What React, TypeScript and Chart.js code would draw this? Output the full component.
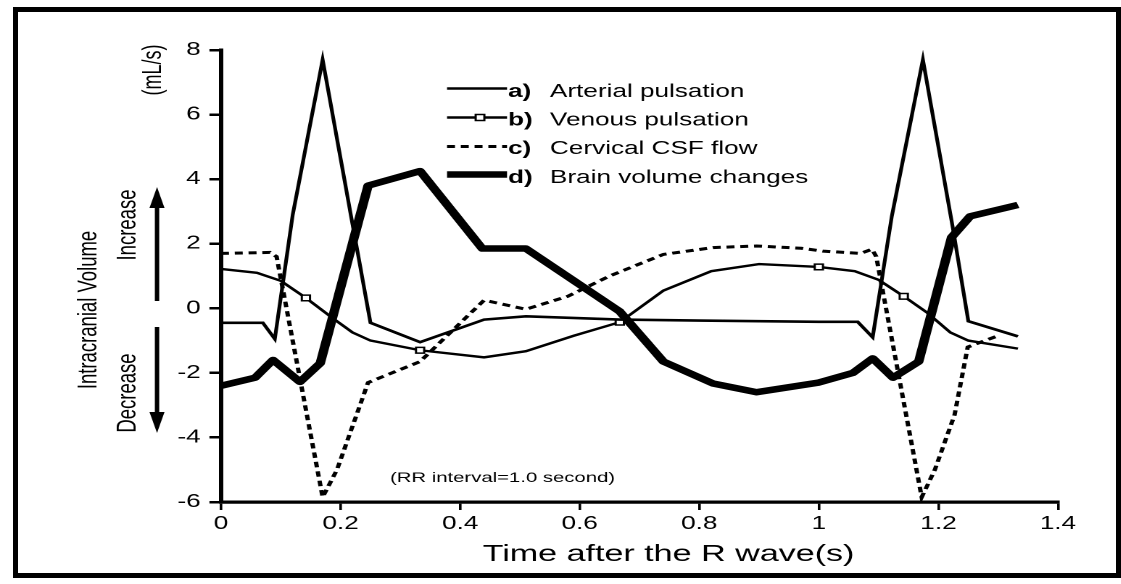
import React, { useEffect, useRef } from "react";
import { Chart, registerables } from "chart.js";

Chart.register(...registerables);

// ---- data (time in s, flow in mL/s) ----
const arterialT = [0, 0.07, 0.09, 0.12, 0.17, 0.22, 0.25, 0.333, 0.44, 0.51, 0.667, 0.8, 1.0, 1.065, 1.09, 1.122, 1.174, 1.224, 1.25, 1.333];
const arterialV = [-0.45, -0.45, -0.95, 2.9, 7.7, 2.6, -0.45, -1.05, -0.35, -0.25, -0.35, -0.38, -0.42, -0.42, -0.9, 2.85, 7.7, 2.5, -0.4, -0.87];

const venousT = [0, 0.06, 0.1, 0.142, 0.19, 0.22, 0.25, 0.333, 0.44, 0.51, 0.59, 0.667, 0.74, 0.82, 0.9, 1.0, 1.06, 1.1, 1.142, 1.18, 1.22, 1.25, 1.333];
const venousV = [1.22, 1.1, 0.85, 0.32, -0.35, -0.75, -1.0, -1.3, -1.52, -1.33, -0.85, -0.43, 0.55, 1.15, 1.37, 1.28, 1.15, 0.88, 0.37, -0.12, -0.75, -1.0, -1.25];
const venousMarkerT = [0.142, 0.333, 0.667, 1.0, 1.142];

const csfT = [0, 0.082, 0.093, 0.17, 0.194, 0.246, 0.333, 0.44, 0.51, 0.58, 0.65, 0.74, 0.823, 0.896, 0.97, 1.007, 1.07, 1.089, 1.096, 1.172, 1.194, 1.227, 1.249, 1.3];
const csfV = [1.7, 1.73, 1.6, -5.85, -5.0, -2.3, -1.65, 0.25, -0.03, 0.37, 1.0, 1.67, 1.88, 1.93, 1.86, 1.77, 1.7, 1.83, 1.6, -5.85, -5.0, -3.3, -1.2, -0.85];

const brainT = [0, 0.057, 0.087, 0.132, 0.166, 0.246, 0.333, 0.437, 0.51, 0.667, 0.74, 0.823, 0.896, 1.0, 1.057, 1.09, 1.124, 1.167, 1.222, 1.253, 1.333];
const brainV = [-2.4, -2.15, -1.6, -2.28, -1.7, 3.8, 4.25, 1.85, 1.85, -0.1, -1.65, -2.33, -2.6, -2.3, -2.0, -1.55, -2.15, -1.65, 2.2, 2.85, 3.2];

const xTicks = [0, 0.2, 0.4, 0.6, 0.8, 1, 1.2, 1.4];
const xTickLabels = ["0", "0.2", "0.4", "0.6", "0.8", "1", "1.2", "1.4"];
const yTicks = [-6, -4, -2, 0, 2, 4, 6, 8];
const yTickLabels = ["-6", "-4", "-2", "0", "2", "4", "6", "8"];

const legendTags = ["a)", "b)", "c)", "d)"];
const seriesNames = ["Arterial pulsation", "Venous pulsation", "Cervical CSF flow", "Brain volume changes"];
const xTitle = "Time after the R wave(s)";
const unitLabel = "(mL/s)";
const sideLabel = "Intracranial Volume";
const upLabel = "Increase";
const downLabel = "Decrease";
const noteLabel = "(RR interval=1.0 second)";

// ---- layout ----
const FULL_W = 1121;
const FULL_H = 584;
const SX = 1.45; // horizontal stretch of the whole figure
const W = FULL_W / SX;
const FONT = "'Liberation Sans', Arial, Helvetica, sans-serif";
const CSF_DASH = [5.5, 4];

const toPts = (t: number[], v: number[]) => t.map((x, i) => ({ x, y: v[i] }));

const annotate = {
  id: "annotate",
  afterDraw(chart: any) {
    const ctx = chart.ctx as CanvasRenderingContext2D;
    ctx.save();
    ctx.fillStyle = "#000";
    ctx.strokeStyle = "#000";

    const rot = (text: string, dx: number, y: number, size: number) => {
      ctx.save();
      ctx.translate(dx / SX, y);
      ctx.rotate(-Math.PI / 2);
      ctx.font = `${size}px ${FONT}`;
      ctx.textAlign = "center";
      ctx.textBaseline = "middle";
      ctx.fillText(text, 0, 0);
      ctx.restore();
    };
    rot(unitLabel, 154, 70, 18);
    rot(upLabel, 128.5, 225, 18.5);
    rot(downLabel, 128.5, 393, 18.5);
    rot(sideLabel, 89, 310, 18.5);

    // arrows
    const ax = 157 / SX;
    const hw = 5.2;
    ctx.lineWidth = 3;
    ctx.beginPath();
    ctx.moveTo(ax, 301);
    ctx.lineTo(ax, 204);
    ctx.moveTo(ax, 327);
    ctx.lineTo(ax, 416);
    ctx.stroke();
    ctx.beginPath();
    ctx.moveTo(ax, 187);
    ctx.lineTo(ax - hw, 208);
    ctx.lineTo(ax + hw, 208);
    ctx.closePath();
    ctx.fill();
    ctx.beginPath();
    ctx.moveTo(ax, 433);
    ctx.lineTo(ax - hw, 412);
    ctx.lineTo(ax + hw, 412);
    ctx.closePath();
    ctx.fill();

    // legend
    const lineY = [88.5, 117.5, 146.5, 174.5];
    const textY = [97, 125.5, 154, 183];
    const x0 = 447 / SX;
    const x1 = 507 / SX;
    chart.data.datasets.forEach((ds: any, i: number) => {
      ctx.save();
      ctx.lineWidth = ds.borderWidth;
      ctx.setLineDash(ds.borderDash || []);
      ctx.beginPath();
      ctx.moveTo(x0, lineY[i]);
      ctx.lineTo(x1, lineY[i]);
      ctx.stroke();
      ctx.restore();
      if (i === 1) {
        ctx.save();
        ctx.fillStyle = "#fff";
        ctx.lineWidth = 1.5;
        const mx = 480 / SX;
        ctx.fillRect(mx - 3, lineY[i] - 3, 6, 6);
        ctx.strokeRect(mx - 3, lineY[i] - 3, 6, 6);
        ctx.restore();
      }
      ctx.font = `bold 18px ${FONT}`;
      ctx.textAlign = "left";
      ctx.textBaseline = "alphabetic";
      ctx.fillText(legendTags[i], 508 / SX, textY[i]);
      ctx.font = `18px ${FONT}`;
      ctx.fillText(seriesNames[i], 550 / SX, textY[i]);
    });

    // note
    ctx.font = `14px ${FONT}`;
    ctx.textAlign = "left";
    ctx.fillText(noteLabel, 390 / SX, 482);

    // x-axis title
    ctx.font = `23.5px ${FONT}`;
    ctx.textAlign = "center";
    ctx.fillText(xTitle, 668.5 / SX, 561);

    ctx.restore();
  },
};

export default function App() {
  const canvasRef = useRef<HTMLCanvasElement | null>(null);

  useEffect(() => {
    if (!canvasRef.current) return;
    Chart.defaults.font.family = FONT;
    Chart.defaults.color = "#000";

    const chart = new Chart(canvasRef.current, {
      type: "line",
      data: {
        datasets: [
          {
            label: seriesNames[0],
            data: toPts(arterialT, arterialV),
            borderColor: "#000",
            borderWidth: 2.6,
            pointRadius: 0,
          },
          {
            label: seriesNames[1],
            data: toPts(venousT, venousV),
            borderColor: "#000",
            borderWidth: 2.4,
            pointStyle: "rect",
            pointRadius: (c: any) => (venousMarkerT.includes(venousT[c.dataIndex]) ? 4 : 0),
            pointBackgroundColor: "#fff",
            pointBorderColor: "#000",
            pointBorderWidth: 1.5,
          },
          {
            label: seriesNames[2],
            data: toPts(csfT, csfV),
            borderColor: "#000",
            borderWidth: 3,
            borderDash: CSF_DASH,
            pointRadius: 0,
          },
          {
            label: seriesNames[3],
            data: toPts(brainT, brainV),
            borderColor: "#000",
            borderWidth: 6.5,
            borderJoinStyle: "round",
            pointRadius: 0,
          },
        ],
      },
      options: {
        animation: false,
        responsive: true,
        maintainAspectRatio: false,
        devicePixelRatio: 2,
        layout: { padding: { left: 0, top: 50, right: W - 1058 / SX, bottom: 0 } },
        plugins: { legend: { display: false }, tooltip: { enabled: false } },
        elements: { line: { tension: 0 } },
        scales: {
          x: {
            type: "linear",
            min: 0,
            max: 1.4,
            afterBuildTicks: (s: any) => {
              s.ticks = xTicks.map((value) => ({ value }));
            },
            afterFit: (s: any) => {
              s.height = FULL_H - 502;
            },
            ticks: {
              callback: (_v: any, i: number) => xTickLabels[i],
              font: { size: 18, family: FONT },
              color: "#000",
              padding: 3,
              maxRotation: 0,
              autoSkip: false,
            },
            grid: { drawOnChartArea: false, tickLength: 8, color: "#000", lineWidth: 1.8 },
            border: { color: "#000", width: 3.2 },
          },
          y: {
            type: "linear",
            min: -6,
            max: 8,
            afterBuildTicks: (s: any) => {
              s.ticks = yTicks.map((value) => ({ value }));
            },
            afterFit: (s: any) => {
              s.width = 221 / SX;
            },
            ticks: {
              callback: (_v: any, i: number) => yTickLabels[i],
              font: { size: 18, family: FONT },
              color: "#000",
              padding: 6,
              autoSkip: false,
            },
            grid: { drawOnChartArea: false, tickLength: 8, color: "#000", lineWidth: 2.5 },
            border: { color: "#000", width: 3 },
          },
        },
      },
      plugins: [annotate],
    } as any);

    return () => chart.destroy();
  }, []);

  return (
    <div
      style={{
        position: "absolute",
        left: 0,
        top: 0,
        width: FULL_W,
        height: FULL_H,
        overflow: "hidden",
        background: "#fff",
      }}
    >
      <div
        style={{
          position: "absolute",
          left: 0,
          top: 0,
          width: W,
          height: FULL_H,
          transform: `scaleX(${SX})`,
          transformOrigin: "0 0",
        }}
      >
        <canvas ref={canvasRef} style={{ display: "block" }} />
      </div>
      <div
        style={{
          position: "absolute",
          left: 12.5,
          top: 7,
          width: FULL_W - 12.5,
          height: 578 - 7,
          boxSizing: "border-box",
          border: "5px solid #000",
          pointerEvents: "none",
        }}
      />
    </div>
  );
}
